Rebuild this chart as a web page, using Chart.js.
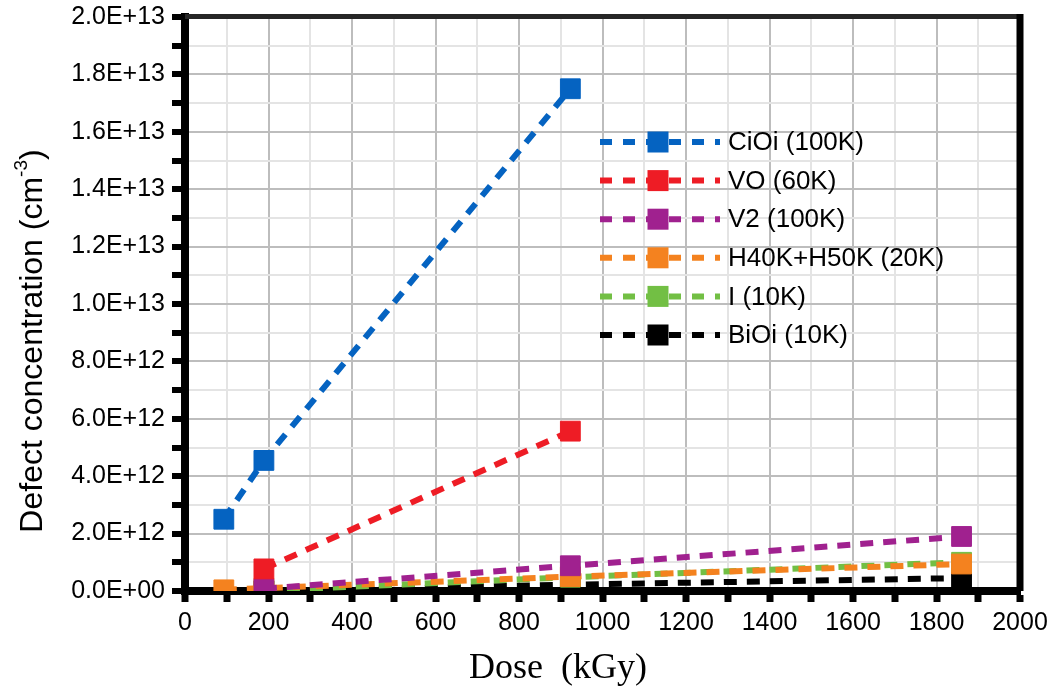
<!DOCTYPE html>
<html><head><meta charset="utf-8">
<script src="https://cdn.jsdelivr.net/npm/chart.js@4/dist/chart.umd.min.js"></script>
<style>html,body{margin:0;padding:0;background:#fff}canvas{display:block}</style>
</head><body>
<canvas id="c" width="1052" height="691"></canvas>
<script>
// ---- data ----
const seriesNames = ['CiOi (100K)', 'VO (60K)', 'V2 (100K)', 'H40K+H50K (20K)', 'I (10K)', 'BiOi (10K)'];
const seriesColors = ['#0563c1', '#ee1c25', '#a0218f', '#f4821f', '#72bf44', '#000000'];
const ciOiDose = [93, 189, 923];
const ciOiConc = [2.5e12, 4.55e12, 1.75e13];
const voDose = [189, 923];
const voConc = [0.77e12, 5.57e12];
const v2Dose = [189, 923, 1860];
const v2Conc = [0.08e12, 0.88e12, 1.9e12];
const hDose = [93, 189, 923, 1860];
const hConc = [0.04e12, 0.1e12, 0.5e12, 0.94e12];
const iDose = [189, 923, 1860];
const iConc = [0.02e12, 0.48e12, 1.0e12];
const biOiDose = [189, 923, 1860];
const biOiConc = [0.0, 0.22e12, 0.45e12];
const yTickLabels = ['0.0E+00', '2.0E+12', '4.0E+12', '6.0E+12', '8.0E+12', '1.0E+13', '1.2E+13', '1.4E+13', '1.6E+13', '1.8E+13', '2.0E+13'];
const xTickLabels = ['0', '200', '400', '600', '800', '1000', '1200', '1400', '1600', '1800', '2000'];
const xTitle = 'Dose  (kGy)';
const yTitleMain = 'Defect concentration (cm';
const yTitleSup = '-3';
const yTitleEnd = ')';

const allDose = [ciOiDose, voDose, v2Dose, hDose, iDose, biOiDose];
const allConc = [ciOiConc, voConc, v2Conc, hConc, iConc, biOiConc];

function pts(xs, ys) { return xs.map((x, i) => ({ x: x, y: ys[i] })); }

const datasets = seriesNames.map((name, k) => ({
  label: name,
  data: pts(allDose[k], allConc[k]),
  borderColor: seriesColors[k],
  backgroundColor: seriesColors[k],
  borderWidth: 6,
  borderDash: [13, 10],
  pointStyle: 'rect',
  pointRadius: 14,
  pointBorderWidth: 1,
  pointBorderColor: seriesColors[k],
  pointBackgroundColor: seriesColors[k],
  tension: 0,
  fill: false
}));

const SANS = "'Liberation Sans', Arial, sans-serif";
const SERIF = "'Liberation Serif', 'Times New Roman', serif";

const decorPlugin = {
  id: 'decor',
  beforeDatasetsDraw(chart) {
    const ctx = chart.ctx, a = chart.chartArea;
    ctx.save();
    ctx.strokeStyle = '#262626';
    ctx.lineWidth = 5;
    ctx.beginPath();
    ctx.moveTo(a.left, a.top - 0.5);
    ctx.lineTo(a.right, a.top - 0.5);
    ctx.stroke();
    ctx.strokeStyle = '#000';
    ctx.lineWidth = 7;
    ctx.beginPath();
    ctx.moveTo(a.right, a.top - 3);
    ctx.lineTo(a.right, a.bottom);
    ctx.stroke();
    ctx.restore();
  },
  afterDraw(chart) {
    const ctx = chart.ctx;
    ctx.save();
    ctx.fillStyle = '#000';
    ctx.font = '36px ' + SERIF;
    ctx.textAlign = 'center';
    ctx.textBaseline = 'middle';
    ctx.fillText(xTitle, 558, 669);
    ctx.translate(33, 341);
    ctx.rotate(-Math.PI / 2);
    const mainFont = '32px ' + SANS, supFont = '19px ' + SANS;
    ctx.font = mainFont;
    const w1 = ctx.measureText(yTitleMain).width;
    const w3 = ctx.measureText(yTitleEnd).width;
    ctx.font = supFont;
    const w2 = ctx.measureText(yTitleSup).width;
    const total = w1 + w2 + w3;
    let x = -total / 2;
    ctx.textAlign = 'left';
    ctx.textBaseline = 'middle';
    ctx.font = mainFont;
    ctx.fillText(yTitleMain, x, 0);
    x += w1;
    ctx.font = supFont;
    ctx.fillText(yTitleSup, x, -11);
    x += w2;
    ctx.font = mainFont;
    ctx.fillText(yTitleEnd, x, 0);
    ctx.restore();

    ctx.save();
    const lx0 = 600, lx1 = 720, mx = 658, ty0 = 142, dy = 38.6;
    chart.data.datasets.forEach((ds, i) => {
      const y = ty0 + i * dy;
      ctx.strokeStyle = ds.borderColor;
      ctx.lineWidth = 6;
      ctx.setLineDash([12, 11]);
      ctx.beginPath();
      ctx.moveTo(lx0, y);
      ctx.lineTo(lx1, y);
      ctx.stroke();
      ctx.setLineDash([]);
      ctx.fillStyle = ds.backgroundColor;
      ctx.fillRect(mx - 10.5, y - 10.5, 21, 21);
      ctx.fillStyle = '#000';
      ctx.font = '26px ' + SANS;
      ctx.textAlign = 'left';
      ctx.textBaseline = 'middle';
      ctx.fillText(ds.label, 728, y + 1);
    });
    ctx.restore();
  }
};

new Chart(document.getElementById('c'), {
  type: 'line',
  data: { datasets: datasets },
  plugins: [decorPlugin],
  options: {
    responsive: false,
    animation: false,
    events: [],
    layout: { padding: { top: 17, right: 32, left: 0, bottom: 0 } },
    plugins: { legend: { display: false }, tooltip: { enabled: false }, title: { display: false } },
    scales: {
      x: {
        type: 'linear',
        min: 0, max: 2000,
        afterFit(s) { s.height = 100; s.paddingLeft = 0; s.paddingRight = 0; },
        border: { display: true, color: '#000', width: 8 },
        grid: {
          color: (c) => (Math.round(c.tick.value / 100) % 2 === 0 ? '#bdbdbd' : '#e4e4e4'),
          lineWidth: 2,
          tickColor: '#000',
          tickWidth: 7,
          tickLength: 11
        },
        ticks: {
          stepSize: 100,
          autoSkip: false,
          maxRotation: 0,
          padding: 6,
          color: '#000',
          font: { family: SANS, size: 25 },
          callback: (v, i) => (i % 2 === 0 ? xTickLabels[i / 2] : '')
        }
      },
      y: {
        type: 'linear',
        min: 0, max: 2e13,
        afterFit(s) { s.width = 185; s.paddingTop = 0; s.paddingBottom = 0; },
        border: { display: true, color: '#000', width: 8 },
        grid: {
          color: (c) => (Math.round(c.tick.value / 1e12) % 2 === 0 ? '#bdbdbd' : '#e4e4e4'),
          lineWidth: 2,
          tickColor: '#000',
          tickWidth: 6,
          tickLength: 13
        },
        ticks: {
          stepSize: 1e12,
          autoSkip: false,
          padding: 7,
          color: '#000',
          font: { family: SANS, size: 25 },
          callback: (v, i) => (i % 2 === 0 ? yTickLabels[i / 2] : '')
        }
      }
    }
  }
});
</script>
</body></html>
